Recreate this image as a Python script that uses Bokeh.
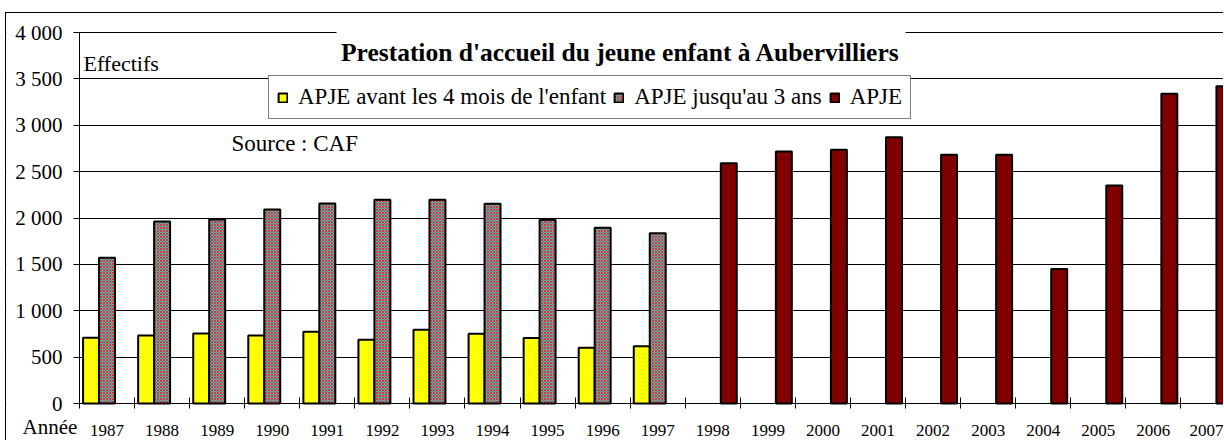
from bokeh.plotting import figure
from bokeh.models import (Range1d, FixedTicker, Label, Legend, LegendItem,
                          ColumnDataSource, BoxAnnotation)
from bokeh.transform import dodge
from bokeh.embed import file_html
from bokeh.resources import INLINE

# ---- data ----
years_early = [1987, 1988, 1989, 1990, 1991, 1992, 1993, 1994, 1995, 1996, 1997]
apje_avant_4_mois = [708, 733, 755, 733, 773, 687, 795, 752, 705, 600, 618]
apje_jusqu_3_ans = [1571, 1962, 1984, 2092, 2156, 2196, 2196, 2153, 1980, 1894, 1836]
years_late = [1998, 1999, 2000, 2001, 2002, 2003, 2004, 2005, 2006, 2007]
apje = [2591, 2717, 2735, 2871, 2681, 2681, 1450, 2350, 3339, 3421]
y_ticks = [0, 500, 1000, 1500, 2000, 2500, 3000, 3500, 4000]
y_tick_labels = ["0", "500", "1 000", "1 500", "2 000", "2 500", "3 000", "3 500", "4 000"]
legend_labels = ["APJE avant les 4 mois de l'enfant", "APJE jusqu'au 3 ans", "APJE"]
title_text = "Prestation d'accueil du jeune enfant à Aubervilliers"

FONT = "Liberation Serif"
all_years = years_early + years_late

# ---- layout (pixels) ----
W, H = 1218, 428            # canvas size
AXIS_LEFT_PX = 73           # y axis position from canvas left
AXIS_BOTTOM_PX = 38         # x axis position from canvas bottom
PLOT_TOP_PX = 19            # y = y_max position from canvas top
PX_PER_CAT = 55.07
y_max = y_ticks[-1]
px_per_unit = (H - AXIS_BOTTOM_PX - PLOT_TOP_PX) / y_max

x0 = all_years[0] - 0.5
x_start = x0 - AXIS_LEFT_PX / PX_PER_CAT
x_end = x0 + (W - AXIS_LEFT_PX) / PX_PER_CAT
y_start = -AXIS_BOTTOM_PX / px_per_unit
y_end = y_max + PLOT_TOP_PX / px_per_unit

p = figure(width=W, height=H, title=None,
           x_range=Range1d(x_start, x_end), y_range=Range1d(y_start, y_end),
           output_backend="svg", toolbar_location=None, min_border=0)
p.outline_line_color = None
p.background_fill_color = "white"
p.border_fill_color = "white"
p.styles = {"border-top": "1px solid black", "border-left": "1px solid black",
            "margin-top": "12px", "margin-left": "5px"}

# gridlines (drawn at underlay level), masked on the left of the y axis
p.xgrid.visible = False
p.ygrid.ticker = FixedTicker(ticks=y_ticks)
p.ygrid.grid_line_color = "black"
p.ygrid.grid_line_width = 1
p.add_layout(BoxAnnotation(right=x0, right_units="data", fill_color="white",
                           fill_alpha=1.0, line_color=None, level="underlay"))

src_a = ColumnDataSource(dict(year=years_early, a=apje_avant_4_mois, b=apje_jusqu_3_ans))
src_b = ColumnDataSource(dict(year=years_late, v=apje))

bw = 0.29
r1 = p.vbar(x=dodge("year", -0.29, range=p.x_range), top="a", width=bw, source=src_a,
            fill_color="#ffff00", line_color="black", line_width=2)
r2 = p.vbar(x=dodge("year", 0.0, range=p.x_range), top="b", width=bw, source=src_a,
            fill_color="#33c6c6", hatch_pattern="diagonal_cross", hatch_color="#e83030",
            hatch_scale=3, hatch_weight=1, line_color="black", line_width=2)
r3 = p.vbar(x=dodge("year", 0.29, range=p.x_range), top="v", width=bw, source=src_b,
            fill_color="#800000", line_color="black", line_width=2)

# axes drawn at fixed locations inside the frame
xa = p.xaxis[0]
xa.fixed_location = 0
xa.bounds = (x0, x_end)
xa.ticker = FixedTicker(ticks=all_years,
                        minor_ticks=[y - 0.5 for y in all_years] + [all_years[-1] + 0.5])
xa.major_label_overrides = {y: str(y) for y in all_years}
xa.major_tick_line_color = None
xa.minor_tick_line_color = "black"
xa.minor_tick_in = 6
xa.minor_tick_out = 5
xa.axis_line_color = "black"
xa.major_label_standoff = 15
xa.major_label_text_font = FONT
xa.major_label_text_font_size = "17px"
xa.major_label_text_color = "black"

ya = p.yaxis[0]
ya.fixed_location = x0
ya.bounds = (0, y_max)
ya.ticker = FixedTicker(ticks=y_ticks)
ya.major_label_overrides = {t: l for t, l in zip(y_ticks, y_tick_labels)}
ya.minor_tick_line_color = None
ya.major_tick_in = 0
ya.major_tick_out = 6
ya.major_tick_line_color = "black"
ya.axis_line_color = "black"
ya.major_label_standoff = 11
ya.major_label_text_font = FONT
ya.major_label_text_font_size = "21px"
ya.major_label_text_color = "black"

legend = Legend(items=[LegendItem(label=legend_labels[0], renderers=[r1]),
                       LegendItem(label=legend_labels[1], renderers=[r2]),
                       LegendItem(label=legend_labels[2], renderers=[r3])],
                orientation="horizontal", location=(262, 322),
                label_text_font=FONT, label_text_font_size="23px",
                label_text_color="black",
                glyph_width=11, glyph_height=11, label_standoff=10, spacing=7,
                padding=8, margin=0, border_line_color="black", border_line_width=1,
                background_fill_color="white", background_fill_alpha=1.0)
p.add_layout(legend)

# white box behind the title, interrupting the top gridline
p.add_layout(BoxAnnotation(left=330, right=899, bottom=396, top=418,
                           left_units="screen", right_units="screen",
                           bottom_units="screen", top_units="screen",
                           fill_color="white", fill_alpha=1.0, line_color=None,
                           level="annotation"))
p.add_layout(Label(x=614, y=389, x_units="screen", y_units="screen", text=title_text,
                   text_font=FONT, text_font_style="bold", text_font_size="25.5px",
                   text_color="black",
                   text_align="center", text_baseline="alphabetic"))
p.add_layout(Label(x=77, y=378, x_units="screen", y_units="screen", text="Effectifs",
                   text_font=FONT, text_font_size="22px", text_color="black",
                   text_baseline="alphabetic"))
p.add_layout(Label(x=225, y=298, x_units="screen", y_units="screen", text="Source : CAF",
                   text_font=FONT, text_font_size="23px", text_color="black",
                   text_baseline="alphabetic"))
p.add_layout(Label(x=16, y=15, x_units="screen", y_units="screen", text="Année",
                   text_font=FONT, text_font_size="21px", text_color="black",
                   text_baseline="alphabetic"))

open("out.html", "w").write(file_html(p, INLINE))
